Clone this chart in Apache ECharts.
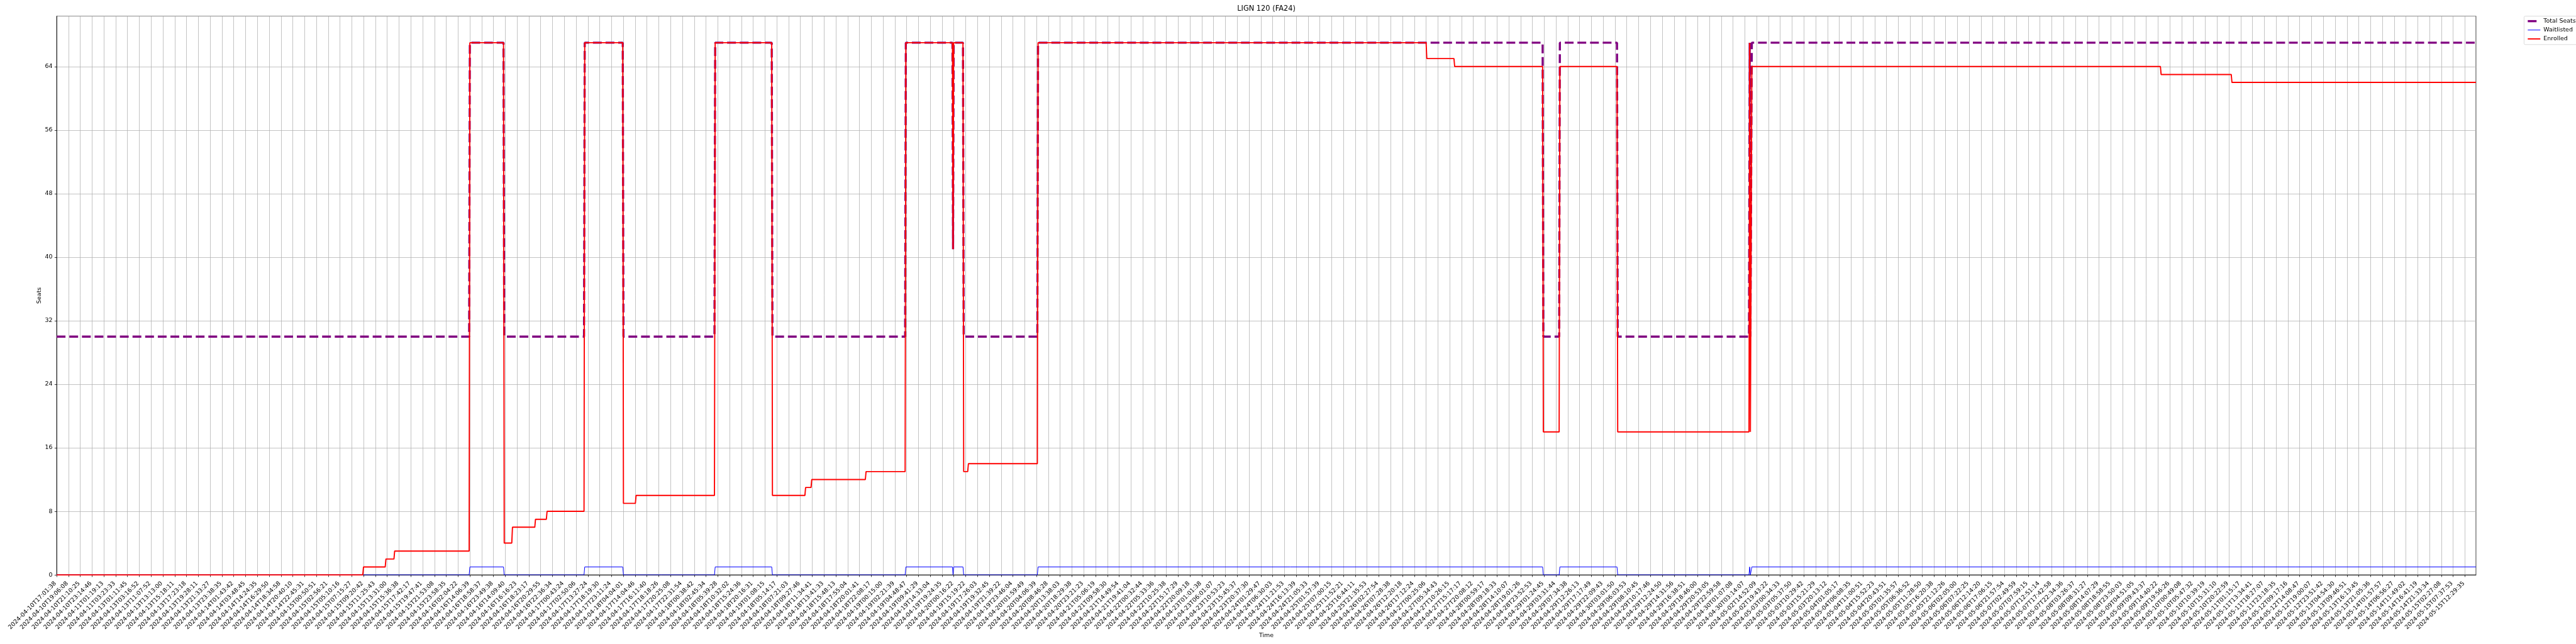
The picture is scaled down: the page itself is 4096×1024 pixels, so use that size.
<!DOCTYPE html>
<html><head><meta charset="utf-8">
<script src="https://cdn.jsdelivr.net/npm/echarts@6/dist/echarts.min.js"></script>
<style>html,body{margin:0;padding:0;background:#fff}#c{width:4096px;height:1024px}</style>
</head><body><div id="c"></div>
<script>
const chartTitle = 'LIGN 120 (FA24)';
const seriesNames = ['Total Seats', 'Waitlisted', 'Enrolled'];
const tickLabels = [
'2024-04-10T17:01:38','2024-04-10T19:06:08','2024-04-10T21:10:25','2024-04-10T23:14:46','2024-04-11T01:19:13',
'2024-04-11T03:23:33','2024-04-13T01:11:45','2024-04-13T03:16:52','2024-04-13T11:07:52','2024-04-13T13:13:00',
'2024-04-13T15:18:11','2024-04-13T17:23:18','2024-04-13T19:28:11','2024-04-13T21:33:27','2024-04-13T23:38:35',
'2024-04-14T01:43:42','2024-04-14T03:48:45','2024-04-14T14:24:35','2024-04-14T16:29:50','2024-04-14T18:34:58',
'2024-04-14T20:40:10','2024-04-14T22:45:31','2024-04-15T00:50:51','2024-04-15T02:56:21','2024-04-15T05:10:16',
'2024-04-15T07:15:27','2024-04-15T09:20:42','2024-04-15T11:25:43','2024-04-15T13:31:00','2024-04-15T15:36:38',
'2024-04-15T17:42:17','2024-04-15T19:47:41','2024-04-15T21:53:08','2024-04-15T23:58:35','2024-04-16T02:04:22',
'2024-04-16T14:06:39','2024-04-16T18:58:37','2024-04-16T23:49:38','2024-04-16T14:09:40','2024-04-16T16:16:23',
'2024-04-16T18:23:17','2024-04-16T20:29:55','2024-04-16T22:36:34','2024-04-17T00:43:24','2024-04-17T02:50:06',
'2024-04-17T13:27:24','2024-04-17T18:19:30','2024-04-17T23:11:24','2024-04-18T04:04:01','2024-04-17T14:04:46',
'2024-04-17T16:11:40','2024-04-17T18:18:26','2024-04-17T20:25:08','2024-04-17T22:31:54','2024-04-18T00:38:42',
'2024-04-18T02:45:34','2024-04-18T05:39:28','2024-04-18T10:32:02','2024-04-18T15:24:36','2024-04-18T20:16:31',
'2024-04-19T01:08:15','2024-04-18T05:14:17','2024-04-18T07:21:03','2024-04-18T09:27:46','2024-04-18T11:34:41',
'2024-04-18T13:41:33','2024-04-18T15:48:13','2024-04-18T17:55:04','2024-04-18T20:01:41','2024-04-18T22:08:17',
'2024-04-19T00:15:00','2024-04-19T02:21:39','2024-04-19T04:48:47','2024-04-19T09:41:29','2024-04-19T14:33:04',
'2024-04-19T19:24:35','2024-04-20T00:16:22','2024-04-19T15:19:22','2024-04-19T17:26:03','2024-04-19T19:32:45',
'2024-04-19T21:39:22','2024-04-19T23:46:04','2024-04-20T01:59:49','2024-04-20T04:06:39','2024-04-20T08:46:28',
'2024-04-20T13:38:03','2024-04-20T18:29:38','2024-04-20T23:21:23','2024-04-21T05:06:19','2024-04-21T09:58:30',
'2024-04-21T14:49:54','2024-04-21T19:41:04','2024-04-22T00:32:44','2024-04-22T05:33:36','2024-04-22T10:25:38',
'2024-04-22T15:17:29','2024-04-22T20:09:18','2024-04-23T01:01:38','2024-04-23T06:01:07','2024-04-23T10:53:23',
'2024-04-23T15:45:37','2024-04-23T20:37:30','2024-04-24T01:29:47','2024-04-24T06:30:03','2024-04-24T11:21:53',
'2024-04-24T16:13:39','2024-04-24T21:05:33','2024-04-25T01:57:39','2024-04-25T07:00:15','2024-04-25T11:52:21',
'2024-04-25T16:44:11','2024-04-25T21:35:53','2024-04-26T02:27:54','2024-04-26T07:28:38','2024-04-26T12:20:18',
'2024-04-26T17:12:24','2024-04-27T00:25:06','2024-04-27T05:34:43','2024-04-27T10:26:15','2024-04-27T15:17:17',
'2024-04-27T20:08:12','2024-04-28T00:59:17','2024-04-28T09:18:33','2024-04-28T14:10:07','2024-04-28T19:01:26',
'2024-04-28T23:52:53','2024-04-29T01:24:45','2024-04-29T03:31:44','2024-04-29T07:34:38','2024-04-29T12:26:13',
'2024-04-29T17:17:49','2024-04-29T22:09:43','2024-04-30T03:01:50','2024-04-29T06:03:53','2024-04-29T08:10:45',
'2024-04-29T10:17:46','2024-04-29T12:24:50','2024-04-29T14:31:56','2024-04-29T16:38:51','2024-04-29T18:46:00',
'2024-04-29T20:53:05','2024-04-29T22:59:58','2024-04-30T01:07:08','2024-04-30T03:14:07','2024-05-02T14:52:09',
'2024-05-02T19:43:22','2024-05-03T00:34:33','2024-05-03T05:37:50','2024-05-03T10:29:42','2024-05-03T15:21:29',
'2024-05-03T20:13:12','2024-05-04T01:05:17','2024-05-04T06:08:35','2024-05-04T11:00:51','2024-05-04T15:52:23',
'2024-05-04T20:43:51','2024-05-05T01:35:57','2024-05-05T06:36:52','2024-05-05T11:28:50','2024-05-05T16:20:38',
'2024-05-05T21:12:26','2024-05-06T02:05:00','2024-05-06T07:22:25','2024-05-06T12:14:20','2024-05-06T17:06:15',
'2024-05-06T21:57:54','2024-05-07T02:49:59','2024-05-07T07:59:15','2024-05-07T12:51:14','2024-05-07T17:42:58',
'2024-05-07T22:34:36','2024-05-08T03:26:37','2024-05-08T08:31:27','2024-05-08T14:07:29','2024-05-08T18:58:55',
'2024-05-08T23:50:03','2024-05-09T04:51:05','2024-05-09T09:43:37','2024-05-09T14:40:22','2024-05-09T19:56:26',
'2024-05-10T00:49:08','2024-05-10T05:47:32','2024-05-10T10:39:19','2024-05-10T15:31:10','2024-05-10T20:22:59',
'2024-05-11T01:15:17','2024-05-11T13:34:41','2024-05-11T18:27:07','2024-05-11T23:18:35','2024-05-12T09:17:16',
'2024-05-12T14:08:47','2024-05-12T19:00:07','2024-05-12T23:51:42','2024-05-13T04:54:30','2024-05-13T09:46:51',
'2024-05-13T16:13:45','2024-05-13T21:05:36','2024-05-14T01:57:57','2024-05-14T06:56:27','2024-05-14T11:49:02',
'2024-05-14T16:41:19','2024-05-14T21:33:34','2024-05-15T02:27:08','2024-05-15T07:37:53','2024-05-15T12:29:35'
];
// x positions are in tick-index units (position along the sample sequence)
const xEnd = 204.93;
const totalSeats = [
[0,30],[34.94,30],[35.00,67],[37.85,67],[37.91,30],[44.67,30],[44.73,67],[47.95,67],[48.01,30],
[55.72,30],[55.78,67],[60.57,67],[60.63,30],[71.87,30],[71.93,67],[75.88,67],[75.93,41],[75.98,67],
[76.77,67],[76.83,30],[83.07,30],[83.13,67],[125.87,67],[125.93,30],[127.27,30],[127.33,67],
[132.17,67],[132.23,30],[143.35,30],[143.41,67],[143.47,30],[143.53,30],[143.59,67],[204.93,67]
];
const waitlisted = [
[0,0],[34.94,0],[35.00,1],[37.85,1],[37.91,0],[44.67,0],[44.73,1],[47.95,1],[48.01,0],
[55.72,0],[55.78,1],[60.57,1],[60.63,0],[71.87,0],[71.93,1],[75.88,1],[75.93,0],[75.98,1],
[76.77,1],[76.83,0],[83.07,0],[83.13,1],[125.87,1],[125.93,0],[127.27,0],[127.33,1],
[132.17,1],[132.23,0],[143.35,0],[143.41,1],[143.47,0],[143.53,0],[143.59,1],[204.93,1]
];
const enrolled = [
[0,0],[25.93,0],[25.99,1],[27.83,1],[27.89,2],[28.57,2],[28.63,3],[34.94,3],[35.00,67],[37.85,67],
[37.91,4],[38.55,4],[38.61,6],[40.50,6],[40.56,7],[41.48,7],[41.54,8],[44.67,8],[44.73,67],[47.95,67],
[48.01,9],[49.02,9],[49.08,10],[55.72,10],[55.78,67],[60.57,67],[60.63,10],[63.38,10],[63.44,11],
[63.90,11],[63.96,12],[68.50,12],[68.56,13],[71.87,13],[71.93,67],[75.88,67],[75.93,41],[75.98,67],
[76.77,67],[76.83,13],[77.17,13],[77.23,14],[83.07,14],[83.13,67],[116.00,67],[116.06,65],[118.36,65],
[118.42,64],[125.87,64],[125.93,18],[127.27,18],[127.33,64],[132.17,64],[132.23,18],[143.35,18],
[143.41,67],[143.47,18],[143.53,18],[143.59,64],[178.20,64],[178.26,63],[184.20,63],[184.26,62],[204.93,62]
];
const yMax = 70.35;
const yStep = 8;

const S = 4096 / 6000;
const FONT = 'DejaVu Sans';
const fs = 13.89 * S;
const chart = echarts.init(document.getElementById('c'), null, {renderer: 'canvas'});
const gridL = 132 * S, gridR = 4096 - 5767 * S, gridT = 37.5 * S, gridB = 1024 - 1339 * S;
const hiddenSymbol = {color: 'rgba(0,0,0,0)', borderWidth: 0, opacity: 0};
const option = {
  animation: false,
  backgroundColor: '#ffffff',
  textStyle: {fontFamily: FONT, color: '#000'},
  title: {
    text: chartTitle, left: (gridL + 5767 * S) / 2, textAlign: 'center', top: 9, padding: 0,
    textStyle: {fontFamily: FONT, fontSize: 16.67 * S, fontWeight: 'normal', color: '#000'}
  },
  legend: {
    orient: 'vertical', left: 5879 * S, top: 37.7 * S,
    padding: [2.4, 4.2, 3.5, 4.2], itemWidth: 20, itemHeight: 11, itemGap: 3.1,
    backgroundColor: 'rgba(255,255,255,0.8)', borderColor: '#cccccc', borderWidth: 0.7, borderRadius: 2,
    textStyle: {fontFamily: FONT, fontSize: fs, color: '#000', lineHeight: 11},
    itemStyle: hiddenSymbol,
    data: [
      {name: seriesNames[0], itemStyle: hiddenSymbol, lineStyle: {width: 3.4, color: '#800080', type: [14, 6.1]}},
      {name: seriesNames[1], itemStyle: hiddenSymbol, lineStyle: {width: 1, color: '#0000ff'}},
      {name: seriesNames[2], itemStyle: hiddenSymbol, lineStyle: {width: 1.9, color: '#ff0000'}}
    ]
  },
  grid: {left: gridL, right: gridR, top: gridT, bottom: gridB, containLabel: false, outerBoundsMode: 'none',
    show: true, borderColor: '#000', borderWidth: 0.76, backgroundColor: 'transparent'},
  xAxis: {
    type: 'value', min: 0, max: xEnd, interval: 1,
    name: 'Time', nameLocation: 'middle', nameGap: 92, nameMoveOverlap: false,
    nameTextStyle: {fontFamily: FONT, fontSize: fs, color: '#000'},
    axisLine: {show: true, lineStyle: {color: '#000', width: 0.76}},
    axisTick: {show: true, length: 3.3, lineStyle: {color: '#000', width: 0.76}},
    splitLine: {show: true, lineStyle: {color: '#b0b0b0', width: 0.76}},
    axisLabel: {
      rotate: 45, margin: 10.2, fontFamily: FONT, fontSize: fs, color: '#000',
      padding: [0, 2.8, 5.6, 0], showMaxLabel: false, hideOverlap: false,
      formatter: function (v) {
        const i = Math.round(v);
        return (Math.abs(v - i) < 1e-6 && i >= 0 && i < tickLabels.length) ? tickLabels[i] : '';
      }
    }
  },
  yAxis: {
    type: 'value', min: 0, max: yMax, interval: yStep,
    name: 'Seats', nameLocation: 'middle', nameGap: 23.5, nameRotate: 90, nameMoveOverlap: false,
    nameTextStyle: {fontFamily: FONT, fontSize: fs, color: '#000'},
    axisLine: {show: true, lineStyle: {color: '#000', width: 0.76}},
    axisTick: {show: true, length: 3.3, lineStyle: {color: '#000', width: 0.76}},
    splitLine: {show: true, lineStyle: {color: '#b0b0b0', width: 0.76}},
    axisLabel: {
      margin: 6.6, fontFamily: FONT, fontSize: fs, color: '#000', showMaxLabel: false,
      formatter: function (v) { return (Math.abs(v / yStep - Math.round(v / yStep)) < 1e-6) ? String(v) : ''; }
    }
  },
  series: [
    {name: seriesNames[0], type: 'line', data: totalSeats, symbol: 'none', showSymbol: false,
      lineStyle: {color: '#800080', width: 3.4, type: [14, 6.1], cap: 'butt'}, itemStyle: {color: '#800080'}},
    {name: seriesNames[1], type: 'line', data: waitlisted, symbol: 'none', showSymbol: false,
      lineStyle: {color: '#0000ff', width: 1}, itemStyle: {color: '#0000ff'}},
    {name: seriesNames[2], type: 'line', data: enrolled, symbol: 'none', showSymbol: false,
      lineStyle: {color: '#ff0000', width: 1.9}, itemStyle: {color: '#ff0000'}}
  ]
};
chart.setOption(option);
</script>
</body></html>
